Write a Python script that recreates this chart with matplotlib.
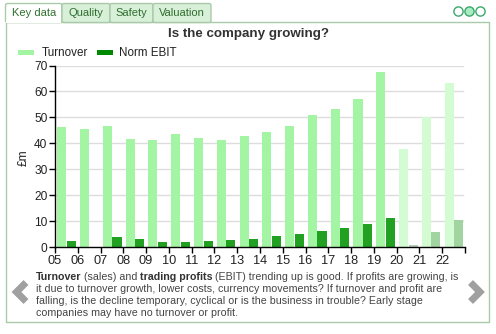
import matplotlib
matplotlib.use("Agg")
import matplotlib.pyplot as plt
from matplotlib.patches import Rectangle, Circle, FancyBboxPatch

plt.rcParams["font.family"] = ["Liberation Sans", "DejaVu Sans"]

# ----- Data ---------------------------------------------------------------
years = ["05", "06", "07", "08", "09", "10", "11", "12", "13",
         "14", "15", "16", "17", "18", "19", "20", "21", "22"]
turnover = [46.2, 45.6, 46.7, 41.8, 41.4, 43.6, 42.0, 41.3, 42.8,
            44.3, 46.7, 50.9, 53.2, 57.1, 67.4, 37.8, 50.3, 63.1]
norm_ebit = [2.3, 0.0, 4.0, 3.1, 2.0, 2.0, 2.4, 2.7, 3.0,
             4.2, 5.0, 6.3, 7.5, 8.7, 11.2, 0.8, 5.8, 10.3]
forecast = [False] * 15 + [True] * 3
tabs = ["Key data", "Quality", "Safety", "Valuation"]
title = "Is the company growing?"

TURN_C = "#a3f5a3"
TURN_F = "#d3fcd3"
EBIT_C = "#22a022"
EBIT_F = "#a2d4a2"
EBIT_LEG = "#008a00"

W, H = 496, 334
fig = plt.figure(figsize=(W / 100, H / 100), dpi=100)

# overlay in pixel coords for the page furniture
bg = fig.add_axes([0, 0, 1, 1])
bg.set_xlim(0, W)
bg.set_ylim(H, 0)
bg.axis("off")

# panel frame
bg.add_patch(Rectangle((5.5, 22), 483.5, 300, fill=False,
                       edgecolor="#a9c9a9", lw=1.0))

# tabs
tab_x = [5.5, 62, 110, 153, 211]
for i, name in enumerate(tabs):
    x0, x1 = tab_x[i], tab_x[i + 1]
    active = i == 0
    bg.add_patch(FancyBboxPatch((x0, 3.5), x1 - x0, 19,
                                boxstyle="round,pad=0,rounding_size=2",
                                facecolor="white" if active else "#d8efd8",
                                edgecolor="#a9c9a9", lw=1.0, zorder=2))
    if active:
        bg.add_patch(Rectangle((x0 + 0.8, 20), x1 - x0 - 1.6, 3,
                               facecolor="white", edgecolor="none", zorder=3))
    bg.text((x0 + x1) / 2, 13, name, ha="center", va="center",
            fontsize=8, color="#2f6f2f", zorder=4)

# three dots, top right
for i, cx in enumerate([458.5, 469.5, 480.5]):
    bg.add_patch(Circle((cx, 11.5), 4.6, facecolor="#a8ecc4" if i == 1 else "white",
                        edgecolor="#3aa86a", lw=1.0))

# title
bg.text(248, 34, title, ha="center", va="center", fontsize=9.6,
        fontweight="bold", color="#333333")

# legend
bg.add_patch(Rectangle((18, 50), 16, 4.5, facecolor=TURN_C, edgecolor="none"))
bg.text(42, 52.5, "Turnover", ha="left", va="center", fontsize=8.4, color="#222222")
bg.add_patch(Rectangle((97, 50), 16, 4.5, facecolor=EBIT_LEG, edgecolor="none"))
bg.text(119, 52.5, "Norm EBIT", ha="left", va="center", fontsize=8.4, color="#222222")

# y label
bg.text(24, 158, "£m", ha="center", va="center", rotation=90,
        fontsize=8.6, color="#222222")

# chevrons
bg.plot([26, 16.5, 26], [282.5, 292, 301.5], color="#a0a0a0", lw=5,
        solid_capstyle="butt", solid_joinstyle="miter")
bg.plot([470.5, 480, 470.5], [282.5, 292, 301.5], color="#a0a0a0", lw=5,
        solid_capstyle="butt", solid_joinstyle="miter")

# paragraph with bold runs
para = [
    [("Turnover", True), (" (sales) and ", False), ("trading profits", True),
     (" (EBIT) trending up is good. If profits are growing, is", False)],
    [("it due to turnover growth, lower costs, currency movements? If turnover and profit are", False)],
    [("falling, is the decline temporary, cyclical or is the business in trouble? Early stage", False)],
    [("companies may have no turnover or profit.", False)],
]
renderer = fig.canvas.get_renderer()
line_y = [276.5, 288.8, 300.8, 312.8]
for y, runs in zip(line_y, para):
    x = 36
    for txt, bold in runs:
        t = bg.text(x, y, txt, ha="left", va="center", fontsize=7.65,
                    fontweight="bold" if bold else "normal",
                    color="#333333" if bold else "#444444")
        # bold extents run a touch wide; trim so runs join naturally
        x += t.get_window_extent(renderer).width - (0.8 if bold else 0)

# ----- Chart ----------------------------------------------------------------
ax = fig.add_axes([55 / W, 1 - 247 / H, 410 / W, 181.5 / H])
ax.set_zorder(2)
ax.patch.set_alpha(0)

xs = range(len(years))
ax.bar([i + 0.3 for i in xs], turnover, width=0.4, align="center",
       color=[TURN_F if f else TURN_C for f in forecast], zorder=2)
ebit_cols = [EBIT_F if f else EBIT_C for f in forecast]
ebit_cols[15] = "#b9ccb9"
ax.bar([i + 0.72 for i in xs], norm_ebit, width=0.4, align="center",
       color=ebit_cols, zorder=2)

ax.set_xlim(0, len(years))
ax.set_ylim(0, 70)
ax.set_xticks(range(len(years) + 1))
ax.set_xticklabels(years + [""], fontsize=9.2, color="#222222")
ax.set_yticks(range(0, 71, 10))
ax.set_yticklabels([str(v) for v in range(0, 71, 10)], fontsize=8.6,
                   color="#222222")
ax.tick_params(axis="both", direction="out", length=4, width=1, color="black",
               pad=1.5)
for v in range(10, 71, 10):
    ax.plot([0, 17.92], [v, v], color="#dddddd", lw=1, zorder=1)
for s in ["top", "right"]:
    ax.spines[s].set_visible(False)
for s in ["left", "bottom"]:
    ax.spines[s].set_color("black")
    ax.spines[s].set_linewidth(1)

fig.savefig("out.png", dpi=100)
